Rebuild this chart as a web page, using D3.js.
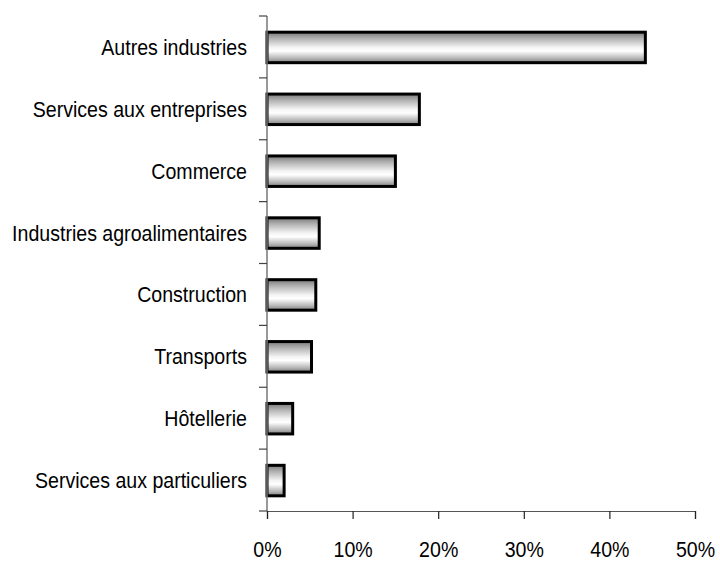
<!DOCTYPE html>
<html>
<head>
<meta charset="utf-8">
<script src="https://cdn.jsdelivr.net/npm/d3@7"></script>
<style>
  html, body { margin: 0; padding: 0; background: #fff; }
  svg { display: block; }
  text { font-family: "Liberation Sans", Arial, sans-serif; fill: #000; }
</style>
</head>
<body>
<svg id="chart" width="720" height="561"></svg>
<script>
// Share of each sector (%)
const sectors = [
  "Autres industries",
  "Services aux entreprises",
  "Commerce",
  "Industries agroalimentaires",
  "Construction",
  "Transports",
  "Hôtellerie",
  "Services aux particuliers"
];
const shares = [44.2, 17.8, 15.0, 6.1, 5.7, 5.2, 3.0, 2.0];
const xTicks = [0, 10, 20, 30, 40, 50];

(function draw() {
  const svg = d3.select("#chart");
  const plotLeft = 267, plotRight = 695, plotTop = 16, plotBottom = 511;
  const fontSize = 22.5, squeeze = 0.87;

  const x = d3.scaleLinear().domain([0, 50]).range([plotLeft, plotRight]);
  const y = d3.scaleBand().domain(sectors).range([plotTop, plotBottom]).paddingInner(0).paddingOuter(0);

  // Vertical metallic gradient for bars
  const defs = svg.append("defs");
  const grad = defs.append("linearGradient")
    .attr("id", "barGrad").attr("x1", 0).attr("y1", 0).attr("x2", 0).attr("y2", 1);
  [[0, "#7a7a7a"], [0.2, "#b0b0b0"], [0.5, "#f4f4f4"], [0.62, "#ffffff"], [0.85, "#b8b8b8"], [1, "#808080"]]
    .forEach(([o, c]) => grad.append("stop").attr("offset", o).attr("stop-color", c));

  // Bars
  const barH = 30.5;
  svg.append("g").selectAll("rect")
    .data(sectors.map((s, i) => ({ s, v: shares[i] })))
    .join("rect")
    .attr("x", x(0))
    .attr("y", d => y(d.s) + y.bandwidth() / 2 - barH / 2 + 0.5)
    .attr("width", d => x(d.v) - x(0))
    .attr("height", barH)
    .attr("fill", "url(#barGrad)")
    .attr("stroke", "#000")
    .attr("stroke-width", 3);

  // Y axis: line plus ticks at category boundaries
  const gy = svg.append("g");
  gy.append("line")
    .attr("x1", plotLeft).attr("x2", plotLeft).attr("y1", plotTop).attr("y2", plotBottom)
    .attr("stroke", "#777").attr("stroke-width", 1.5);
  const boundaries = sectors.map(s => y(s)).concat([plotBottom]);
  gy.selectAll("line.tk").data(boundaries).join("line")
    .attr("class", "tk")
    .attr("x1", plotLeft - 8).attr("x2", plotLeft)
    .attr("y1", d => d).attr("y2", d => d)
    .attr("stroke", "#444").attr("stroke-width", 1.2);

  // Category labels (condensed sans)
  gy.selectAll("text").data(sectors).join("text")
    .attr("transform", d => `translate(${plotLeft - 20},${y(d) + y.bandwidth() / 2 + 8}) scale(${squeeze},1)`)
    .attr("text-anchor", "end")
    .attr("font-size", fontSize)
    .text(d => d);

  // X axis
  const gx = svg.append("g").attr("transform", `translate(0,${plotBottom})`);
  const xAxis = d3.axisBottom(x).tickValues(xTicks).tickSize(8).tickFormat(d => d + "%");
  gx.call(xAxis);
  gx.select(".domain").attr("stroke", "#555").attr("stroke-width", 1.2);
  gx.selectAll(".tick line").attr("stroke", "#222").attr("stroke-width", 1.2);
  gx.selectAll(".tick text")
    .attr("font-size", fontSize)
    .attr("font-family", "Liberation Sans, Arial, sans-serif")
    .attr("fill", "#000")
    .attr("y", 0).attr("dy", 0)
    .attr("transform", `translate(0,46) scale(${squeeze},1)`);
})();
</script>
</body>
</html>
